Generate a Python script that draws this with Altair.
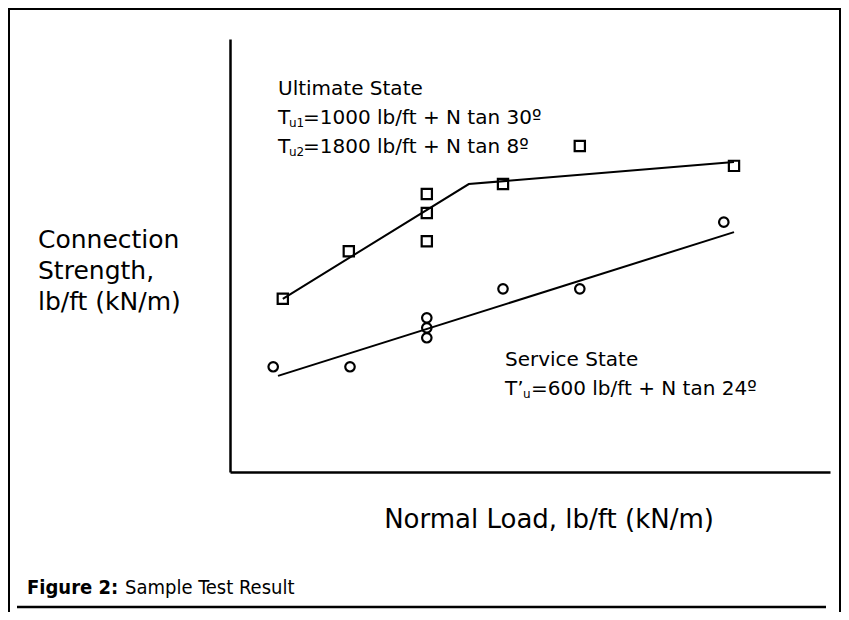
import altair as alt
import pandas as pd

# ---- data (arbitrary units: x 0-100, y 0-100) ----
ult_x = [8.8, 19.8, 32.8, 32.8, 32.8, 45.5, 58.3, 84.0]
ult_y = [40.0, 51.0, 64.2, 59.8, 53.3, 66.5, 75.3, 70.7]
svc_x = [7.2, 20.0, 32.8, 32.8, 32.8, 45.5, 58.3, 82.3]
svc_y = [24.3, 24.3, 35.6, 33.3, 31.0, 42.3, 42.3, 57.7]

ult_fit_x = [8.8, 39.8, 84.0]
ult_fit_y = [40.0, 66.5, 71.6]
svc_fit_x = [8.0, 84.0]
svc_fit_y = [22.2, 55.4]

X_TITLE = "Normal Load, lb/ft (kN/m)"
Y_TITLE = ["Connection", "Strength,", "lb/ft (kN/m)"]
ULT_LINES = ["Ultimate State", "=1000 lb/ft + N tan 30º", "=1800 lb/ft + N tan 8º"]
SVC_LINES = ["Service State", "=600 lb/ft + N tan 24º"]
CAPTION_BOLD = "Figure 2:"
CAPTION_REST = "Sample Test Result"

FONT = "DejaVu Sans"
NARROW = "DejaVu Sans Condensed, Liberation Sans Narrow, sans-serif"

# plot area origin on the page
OX, OY = 230, 39

pts = pd.DataFrame(
    {"x": ult_x + svc_x, "y": ult_y + svc_y,
     "series": ["Ultimate"] * len(ult_x) + ["Service"] * len(svc_x)}
)
fits = pd.DataFrame(
    {"x": ult_fit_x + svc_fit_x, "y": ult_fit_y + svc_fit_y,
     "series": ["Ultimate"] * len(ult_fit_x) + ["Service"] * len(svc_fit_x),
     "o": list(range(len(ult_fit_x))) + list(range(len(svc_fit_x)))}
)

xs = alt.Scale(domain=[0, 100], nice=False, zero=False)
ys = alt.Scale(domain=[0, 100], nice=False, zero=False)
ax = dict(title=None, labels=False, ticks=False, grid=False, domain=True,
          domainColor="black", domainWidth=2.5)

lines = alt.Chart(fits).mark_line(color="black", strokeWidth=2).encode(
    x=alt.X("x:Q", scale=xs, axis=alt.Axis(**ax)),
    y=alt.Y("y:Q", scale=ys, axis=alt.Axis(**ax)),
    detail="series:N",
    order="o:Q",
)

points = alt.Chart(pts).mark_point(filled=False, color="black", strokeWidth=2.2, opacity=1).encode(
    x=alt.X("x:Q", scale=xs),
    y=alt.Y("y:Q", scale=ys),
    shape=alt.Shape("series:N", scale=alt.Scale(domain=["Ultimate", "Service"], range=["square", "circle"]), legend=None),
    size=alt.Size("series:N", scale=alt.Scale(domain=["Ultimate", "Service"], range=[105, 90]), legend=None),
)


def txt(s, px, py, size, weight="normal", font=FONT, align="left"):
    return alt.Chart(alt.Data(values=[{"k": 0}])).mark_text(
        text=s, align=align, baseline="alphabetic", fontSize=size, font=font,
        fontWeight=weight, color="black",
    ).encode(x=alt.value(px - OX), y=alt.value(py - OY))


def rule(x1, y1, x2, y2, w=2):
    return alt.Chart(alt.Data(values=[{"k": 0}])).mark_rule(color="black", strokeWidth=w).encode(
        x=alt.value(x1 - OX), y=alt.value(y1 - OY), x2=alt.value(x2 - OX), y2=alt.value(y2 - OY)
    )


texts = [
    txt(Y_TITLE[0], 38, 248, 25),
    txt(Y_TITLE[1], 38, 279, 25),
    txt(Y_TITLE[2], 38, 310, 25),
    txt(X_TITLE, 549, 528, 26, align="center"),
    txt(ULT_LINES[0], 278, 95, 20),
    txt("T", 278, 124, 20), txt("u1", 289, 127, 12), txt(ULT_LINES[1], 303, 124, 20),
    txt("T", 278, 153, 20), txt("u2", 289, 156, 12), txt(ULT_LINES[2], 303, 153, 20),
    txt(SVC_LINES[0], 505, 366, 20),
    txt("T’", 505, 395, 20), txt("u", 523, 398, 12), txt(SVC_LINES[1], 531, 395, 20),
    txt(CAPTION_BOLD, 27, 594, 20, weight="bold", font=NARROW),
    txt(CAPTION_REST, 125, 594, 20, font=NARROW),
]

frame = [
    rule(9, 8, 9, 612),      # left border
    rule(8, 9, 841, 9),      # top border
    rule(840, 8, 840, 612),  # right border
    rule(17, 607, 826, 607, 2.5),  # caption rule
]

chart = alt.layer(lines, points, *texts, *frame).properties(
    width=600, height=433,
    padding={"left": 222, "top": 31, "right": 11, "bottom": 140},
    autosize=alt.AutoSizeParams(type="none"),
    background="white",
).configure_view(stroke=None)

chart.save("out.html", embed_options={"renderer": "svg", "actions": False})
